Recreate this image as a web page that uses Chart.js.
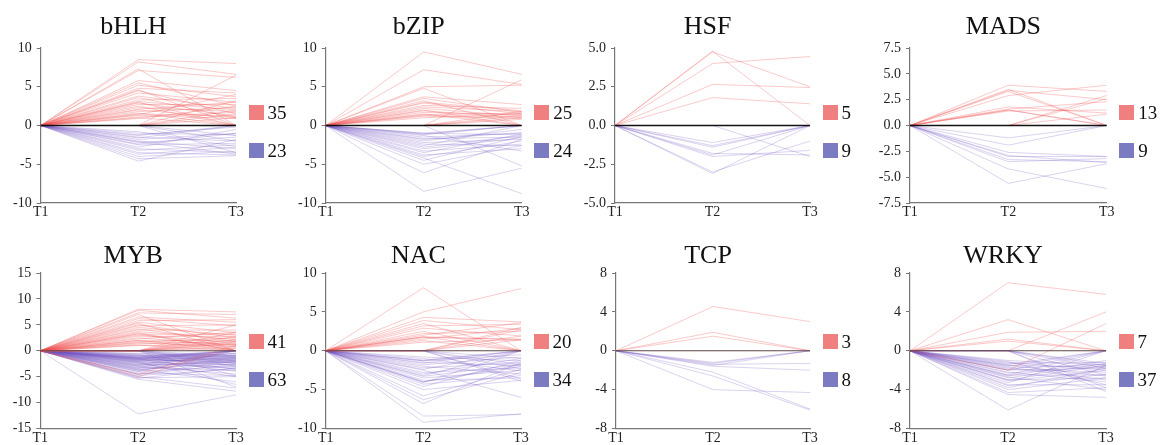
<!DOCTYPE html>
<html>
<head>
<meta charset="utf-8">
<script src="https://cdn.jsdelivr.net/npm/chart.js@4.4.0/dist/chart.umd.min.js"></script>
<style>
  body { margin: 0; background: #fff; width: 1161px; height: 445px; position: relative; overflow: hidden; font-family: 'Liberation Serif', serif; }
  canvas { position: absolute; }
  .ttl { position: absolute; width: 200px; text-align: center; font-size: 26px; line-height: 26px; color: #111; }
  .box { position: absolute; width: 15px; height: 15px; }
  .num { position: absolute; font-size: 19px; line-height: 19px; color: #111; }
</style>
</head>
<body>
<script>
const timePoints = ['T1', 'T2', 'T3'];
const families = ['bHLH', 'bZIP', 'HSF', 'MADS', 'MYB', 'NAC', 'TCP', 'WRKY'];
const yMin = [-10, -10, -5, -7.5, -15, -10, -8, -8];
const yMax = [10, 10, 5, 7.5, 15, 10, 8, 8];
const yStep = [5, 5, 2.5, 2.5, 5, 5, 4, 4];

// every pair is [T2, T3]; T1 is 0 for all genes
const bHLH_up = [[8.5,8.0],[8.2,6.6],[7.3,0],[7.1,6.2],[5.8,4.5],[5.5,2.5],[5.2,3.7],[4.8,4.2],[4.6,0],[4.5,1.5],
  [4.2,3.0],[3.8,2.2],[3.6,1.0],[3.3,3.5],[3.1,2.0],[2.9,1.2],[2.7,2.7],[2.5,0],[2.3,1.8],[2.1,3.0],
  [2.0,1.0],[1.8,2.3],[1.6,0],[1.5,1.2],[1.4,4.0],[1.3,0.9],[1.1,1.7],[1.0,0],[0.9,2.5],[0,6.5],
  [0,3.2],[0,1.5],[0,2.0],[0,1.0],[3.0,0]];
const bHLH_down = [[-1.0,-1.2],[-1.3,0],[-1.5,-2.0],[-1.8,-1.0],[-2.0,-3.0],[-2.2,-1.5],[-2.1,-3.7],[-2.5,-2.3],[-2.8,-0.5],[-3.0,-3.5],
  [-3.5,-3.8],[-3.7,-2.8],[-4.0,-3.3],[-4.3,-3.9],[-4.6,-1.8],[-1.2,-0.2],[-0.8,-2.7],[0,-1.3],[0,-3.5],[0,-2.0],
  [-1.6,0],[-2.4,-1.0],[-3.2,-2.5]];
const bZIP_up = [[9.5,6.6],[7.2,5.3],[5.0,5.2],[4.8,0],[3.7,2.7],[3.5,1.7],[3.2,0],[2.9,1.5],[2.4,1.8],[2.2,1.2],
  [2.0,0],[1.9,1.0],[1.7,1.4],[1.5,0],[1.4,1.6],[1.3,1.1],[1.2,0.9],[0,5.9],[0,1.8],[0,1.3],
  [0,1.0],[0,0.8],[2.6,2.2],[1.0,1.5],[3.0,1.9]];
const bZIP_down = [[-1.0,0],[-1.1,0],[-1.2,0],[-1.0,-1.2],[-1.5,-1.0],[-1.7,-1.5],[-2.0,-0.5],[-2.2,-1.8],[-2.4,-2.6],[-2.6,0],
  [-3.0,-1.6],[-3.5,-1.1],[-3.8,-3.0],[-4.0,-2.0],[-4.2,-8.8],[-4.5,-1.4],[-5.0,-2.6],[-6.1,-1.8],[-8.5,-5.5],[0,-5.2],
  [-1.3,-3.3],[-1.8,-0.9],[-2.8,-1.3],[-3.3,-2.4]];
const HSF_up = [[4.8,0],[4.75,2.5],[4.0,4.45],[2.65,2.45],[1.8,1.4]];
const HSF_down = [[-1.1,0],[-1.4,0],[-1.3,0],[-1.9,0],[-2.0,-1.6],[-3.0,-1.0],[-3.1,0],[0,-2.0],[-1.8,-1.9]];
const MADS_up = [[3.9,3.3],[3.5,0],[3.4,2.5],[3.3,0],[2.9,3.9],[1.8,1.2],[1.6,2.3],[1.5,0],[1.5,0],[1.4,1.5],
  [0,2.9],[0,2.6],[0,1.1]];
const MADS_down = [[-1.2,0],[-1.9,0],[-2.6,-3.0],[-3.0,-3.0],[-3.3,-3.5],[-3.5,-3.2],[-4.2,-6.1],[-5.6,-3.7],[-2.9,-3.6]];
const MYB_up = [[8.0,7.5],[7.8,6.3],[7.3,7.0],[7.0,0],[6.5,5.5],[6.2,4.8],[5.8,6.0],[5.5,3.5],[5.3,0],[5.0,2.5],
  [4.8,5.0],[4.5,3.0],[4.2,1.8],[4.0,4.0],[3.7,2.2],[3.5,0],[3.2,3.2],[3.0,1.5],[2.8,2.8],[2.5,1.0],
  [2.3,3.6],[2.0,2.0],[2.0,0],[1.8,1.3],[1.6,2.5],[1.5,0.8],[1.3,1.8],[1.1,0],[1.0,1.2],[0,5.0],
  [0,3.5],[0,2.8],[0,2.2],[0,1.8],[0,1.5],[0,1.2],[0,0.8],[0,0.5],[-4.5,1.0],[-5.0,0.6],
  [3.3,0]];
const MYB_down = [[-12.2,-8.5],[-5.5,-7.8],[-5.2,-5.0],[-5.0,-7.2],[-4.8,-3.5],[-4.5,-2.0],[-4.3,-4.8],[-4.0,0],[-4.0,-3.0],[-3.8,-1.5],
  [-3.6,-6.0],[-3.5,-2.5],[-3.3,0],[-3.2,-3.8],[-3.0,-1.8],[-3.0,-4.5],[-2.8,-2.2],[-2.7,0],[-2.6,-1.2],[-2.5,-3.2],
  [-2.4,-5.0],[-2.3,-1.0],[-2.2,-2.7],[-2.1,0],[-2.0,-1.6],[-2.0,-3.5],[-1.9,-0.8],[-1.8,-2.0],[-1.8,0],[-1.7,-1.3],
  [-1.6,-4.0],[-1.6,0],[-1.5,-0.5],[-1.5,0],[-1.5,-2.3],[-1.4,-1.8],[-1.4,0],[-1.3,-1.0],[-1.3,-2.9],[-1.2,0],
  [-1.2,-1.5],[-1.1,-0.6],[-1.0,-2.1],[-1.0,0],[-0.9,-1.2],[-0.8,-3.6],[-0.7,-1.7],[-0.6,-0.9],[0,-1.5],[0,-2.5],
  [0,-1.0],[0,-3.0],[0,-2.0],[0,-4.8],[0,-7.0],[-3.4,-1.3],[-4.6,-2.6],[-2.9,-0.4],[-5.3,-3.3],[-2.2,-6.5],
  [-1.7,-2.4],[-3.7,-1.9],[-0.5,-1.1]];
const NAC_up = [[8.1,0],[5.0,8.0],[4.3,3.7],[3.9,2.7],[3.5,0],[3.2,3.4],[2.9,1.9],[2.5,0],[2.2,2.5],[1.8,1.4],
  [1.8,0],[1.7,1.5],[1.5,2.9],[1.3,0],[1.1,1.4],[0,3.0],[0,2.7],[0,1.9],[0,1.4],[2.0,3.6]];
const NAC_down = [[-9.2,-8.1],[-8.4,-8.2],[-6.8,-1.5],[-6.3,-2.8],[-5.0,-3.8],[-4.6,-1.2],[-4.3,-3.2],[-4.1,0],[-4.0,-2.0],[-4.0,-1.8],
  [-3.8,-3.5],[-3.5,-2.5],[-3.2,0],[-3.0,-1.0],[-2.8,-2.2],[-2.5,-6.0],[-2.4,0],[-2.2,-1.5],[-2.0,-3.0],[-1.8,-0.8],
  [-1.6,0],[-1.5,-1.9],[-1.3,0],[-1.3,-0.5],[-1.2,0],[-1.0,-2.6],[-0.8,-1.3],[0,-1.0],[0,-1.8],[0,-3.6],
  [0,-2.3],[0,-3.9],[-3.3,-1.7],[-5.8,-2.4]];
const TCP_up = [[4.55,3.0],[1.9,0],[1.5,0]];
const TCP_down = [[-1.2,0],[-1.5,0],[-1.4,-1.3],[-1.6,-2.0],[-2.2,-6.0],[-2.6,-6.1],[-4.0,-4.3],[-1.3,0]];
const WRKY_up = [[7.0,5.8],[3.2,0],[1.9,2.0],[1.0,0],[0,4.0],[-2.0,2.8],[1.2,0]];
const WRKY_down = [[-6.1,-1.5],[-4.5,-4.8],[-4.3,-3.8],[-4.0,-2.8],[-3.8,-1.8],[-3.5,-3.5],[-3.3,0],[-3.1,-2.0],[-3.0,-1.5],[-3.0,-2.8],
  [-2.8,-1.3],[-2.7,-4.0],[-2.5,0],[-2.5,-2.5],[-2.3,-1.6],[-2.2,-3.2],[-2.0,-1.8],[-2.0,0],[-1.9,-2.2],[-1.8,-1.4],
  [-1.7,-3.0],[-1.6,0],[-1.5,-1.7],[-1.5,-2.6],[-1.4,0],[-1.3,-1.2],[-1.2,-2.0],[-1.0,-1.5],[0,-1.5],[0,-1.8],
  [0,-2.5],[0,-3.8],[0,-4.2],[0,-1.3],[-3.6,-2.4],[-2.6,-1.0],[-1.1,-3.5]];

const upSets = [bHLH_up, bZIP_up, HSF_up, MADS_up, MYB_up, NAC_up, TCP_up, WRKY_up];
const downSets = [bHLH_down, bZIP_down, HSF_down, MADS_down, MYB_down, NAC_down, TCP_down, WRKY_down];

// layout
const axisLeft = [40.7, 325.7, 615, 910, 40.3, 325.7, 616, 910];
const axisRight = [236, 521.7, 810, 1106.7, 236, 521, 810, 1106];
const rows = [
  { top: 0, h: 222, plotTop: 48, plotBottom: 203, titleMid: 26.5, redTop: 105, blueTop: 143, zero: '#111', zeroW: 1.5 },
  { top: 222, h: 223, plotTop: 273, plotBottom: 428.5, titleMid: 255, redTop: 334, blueTop: 372, zero: '#5c4646', zeroW: 1.2 }
];
const upLine = 'rgba(238,80,80,0.3)';
const downLine = 'rgba(115,85,195,0.26)';
const upBox = '#F08080';
const downBox = '#7B7BC1';
const font = 'Liberation Serif';

function addDiv(cls, x, y, text, bg) {
  const d = document.createElement('div');
  d.className = cls;
  d.style.left = x + 'px';
  d.style.top = y + 'px';
  if (text !== undefined) d.textContent = text;
  if (bg) d.style.background = bg;
  document.body.appendChild(d);
}

families.forEach((name, i) => {
  const row = i < 4 ? rows[0] : rows[1];
  const left = (i % 4) * 290;
  const canvas = document.createElement('canvas');
  canvas.width = 290;
  canvas.height = row.h;
  canvas.style.left = left + 'px';
  canvas.style.top = row.top + 'px';
  document.body.appendChild(canvas);

  const datasets = [{ data: [0, 0, 0], borderColor: row.zero, borderWidth: row.zeroW }];
  upSets[i].forEach(p => datasets.push({ data: [0, p[0], p[1]], borderColor: upLine, borderWidth: 1 }));
  downSets[i].forEach(p => datasets.push({ data: [0, p[0], p[1]], borderColor: downLine, borderWidth: 1 }));

  new Chart(canvas, {
    type: 'line',
    data: { labels: timePoints, datasets: datasets },
    options: {
      responsive: false,
      animation: false,
      layout: { padding: { top: row.plotTop - row.top, right: left + 290 - axisRight[i], bottom: 0, left: 0 } },
      plugins: { legend: { display: false }, tooltip: { enabled: false } },
      elements: { line: { tension: 0 }, point: { radius: 0 } },
      scales: {
        x: {
          afterFit: s => { s.height = row.top + row.h - row.plotBottom; },
          grid: { drawOnChartArea: false, drawTicks: false },
          border: { color: '#777', width: 1.2 },
          ticks: { padding: 1, maxRotation: 0, autoSkip: false, color: '#222', font: { family: font, size: 14 } }
        },
        y: {
          min: yMin[i], max: yMax[i],
          afterFit: s => { s.width = axisLeft[i] - left; },
          grid: { drawOnChartArea: false, tickLength: 4, color: '#777' },
          border: { color: '#777', width: 1.2 },
          ticks: {
            stepSize: yStep[i], padding: 5, color: '#222', font: { family: font, size: 14 },
            callback: v => Number.isInteger(yStep[i]) ? v : v.toFixed(1)
          }
        }
      }
    }
  });

  const mid = (axisLeft[i] + axisRight[i]) / 2 - 5;
  addDiv('ttl', mid - 100, row.titleMid - 13.2, name);
  const bx = axisRight[i] + 12.5;
  addDiv('box', bx, row.redTop, undefined, upBox);
  addDiv('box', bx, row.blueTop, undefined, downBox);
  addDiv('num', bx + 19, row.redTop + 7.5 - 9.5, String(upSets[i].length));
  addDiv('num', bx + 19, row.blueTop + 7.5 - 9.5, String(downSets[i].length));
});
</script>
</body>
</html>
